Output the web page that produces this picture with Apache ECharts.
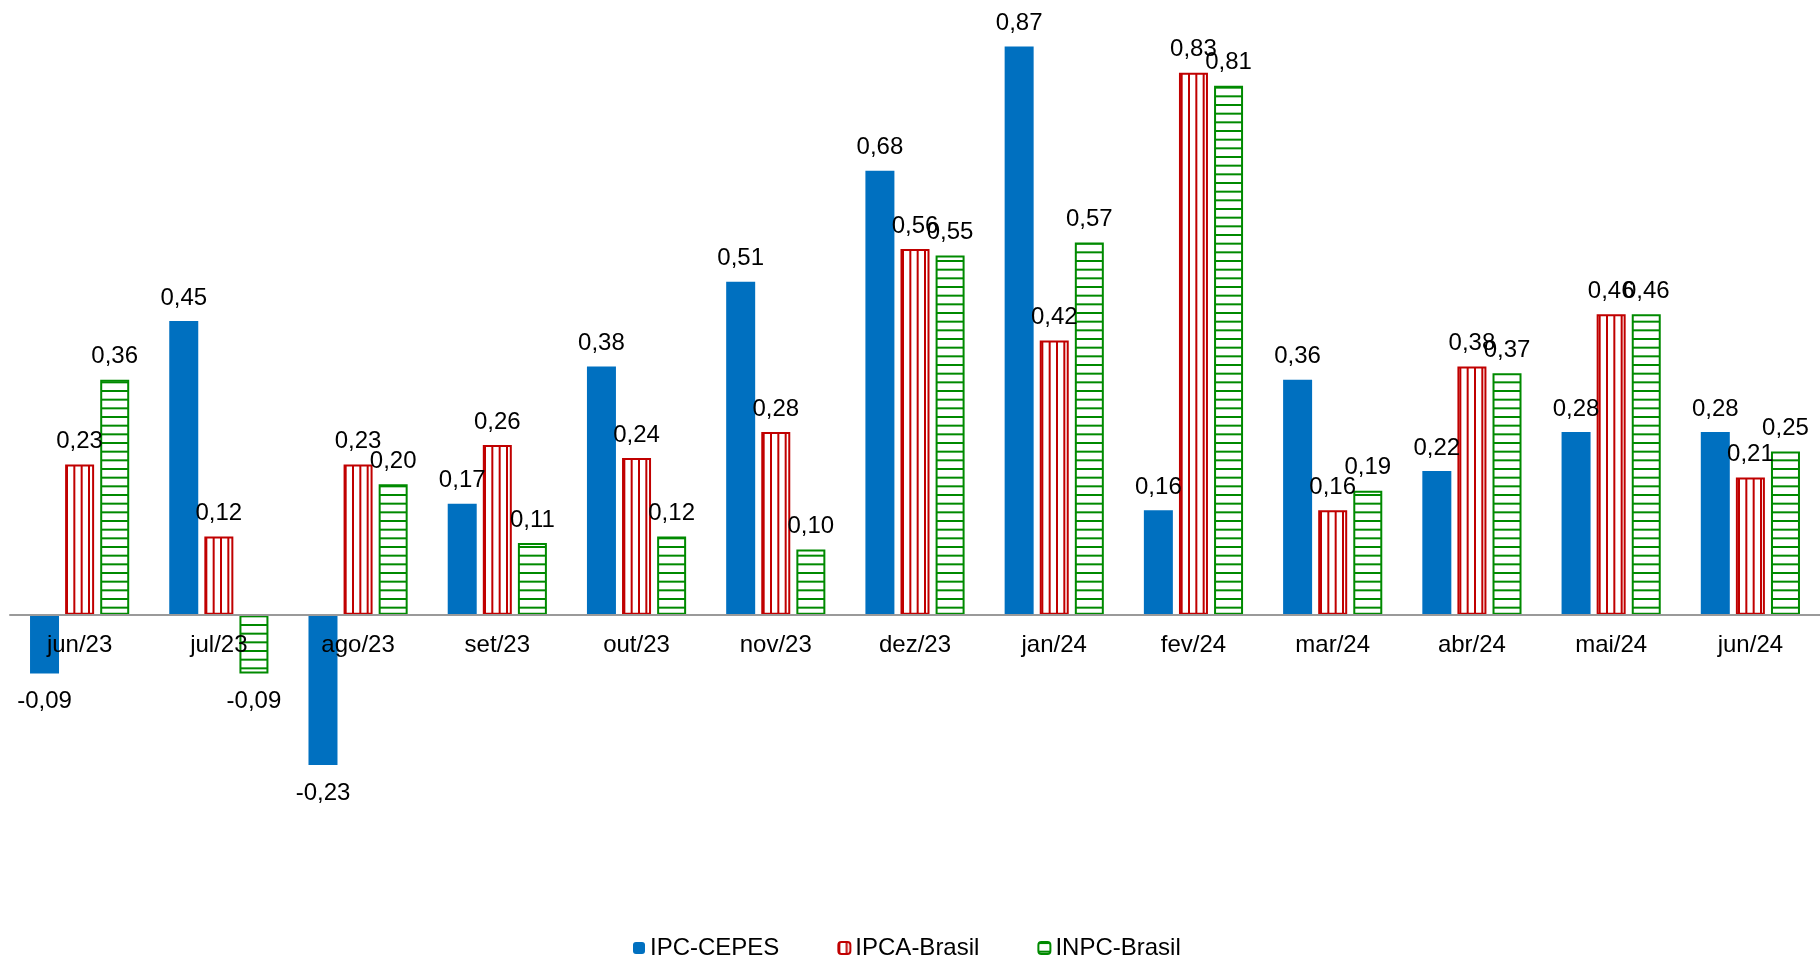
<!DOCTYPE html>
<html>
<head>
<meta charset="utf-8">
<script src="https://cdn.jsdelivr.net/npm/echarts@6/dist/echarts.min.js"></script>
<style>
html,body{margin:0;padding:0;background:#fff;}
#chart{width:1820px;height:957px;}
</style>
</head>
<body>
<div id="chart"></div>
<script>
const categories = ['jun/23','jul/23','ago/23','set/23','out/23','nov/23','dez/23','jan/24','fev/24','mar/24','abr/24','mai/24','jun/24'];
const ipcCepes   = [-0.09, 0.45, -0.23, 0.17, 0.38, 0.51, 0.68, 0.87, 0.16, 0.36, 0.22, 0.28, 0.28];
const ipcaBrasil = [0.23, 0.12, 0.23, 0.26, 0.24, 0.28, 0.56, 0.42, 0.83, 0.16, 0.38, 0.46, 0.21];
const inpcBrasil = [0.36, -0.09, 0.20, 0.11, 0.12, 0.10, 0.55, 0.57, 0.81, 0.19, 0.37, 0.46, 0.25];
const seriesNames = ['IPC-CEPES', 'IPCA-Brasil', 'INPC-Brasil'];

const BLUE = '#0070C0', RED = '#C00000', GREEN = '#008A00';
const FONT = "'Liberation Sans', Arial, sans-serif";

const H = 957, GRID_TOP = 27, GRID_BOTTOM = 81, Y_MIN = -0.4, Y_MAX = 0.9;
const plotH = H - GRID_TOP - GRID_BOTTOM;
const zeroOffset = -Math.round((0 - Y_MIN) / (Y_MAX - Y_MIN) * plotH);

function makePattern(vertical, color, size, count, lw) {
  const c = document.createElement('canvas');
  c.width = size; c.height = size;
  const ctx = c.getContext('2d');
  ctx.fillStyle = '#fff';
  ctx.fillRect(0, 0, size, size);
  ctx.fillStyle = color;
  const step = size / count;
  for (let i = 0; i < count; i++) {
    const p = i * step;
    if (vertical) ctx.fillRect(p, 0, lw, size);
    else ctx.fillRect(0, p, size, lw);
  }
  return c;
}
const redPattern = makePattern(true, RED, 22, 3, 2);
const greenPattern = makePattern(false, GREEN, 26, 3, 2);

function fmt(v) { return v.toFixed(2).replace('.', ','); }
function toData(arr) {
  return arr.map(v => ({
    value: v,
    label: v < 0 ? { position: 'bottom', distance: 16 } : { position: 'top', distance: 11 }
  }));
}

const labelCommon = {
  show: true,
  formatter: p => fmt(p.value),
  fontSize: 24,
  color: '#000',
  fontFamily: FONT
};

const chart = echarts.init(document.getElementById('chart'), null, { renderer: 'canvas' });
chart.setOption({
  animation: false,
  backgroundColor: '#fff',
  textStyle: { fontFamily: FONT },
  grid: { left: 10, right: 0, top: GRID_TOP, bottom: GRID_BOTTOM, containLabel: false },
  legend: {
    data: seriesNames,
    left: 633,
    top: 936,
    padding: 0,
    itemWidth: 12,
    itemHeight: 12,
    itemGap: 58,
    textStyle: { fontSize: 24, color: '#000', fontFamily: FONT, lineHeight: 24 }
  },
  xAxis: {
    type: 'category',
    data: categories,
    position: 'bottom',
    offset: zeroOffset,
    axisLine: { show: true, onZero: false, lineStyle: { color: '#9a9a9a', width: 2 } },
    axisTick: { show: false },
    axisLabel: { interval: 0, fontSize: 24, color: '#000', margin: 18, fontFamily: FONT },
    z: 10
  },
  yAxis: {
    type: 'value',
    min: Y_MIN,
    max: Y_MAX,
    show: false,
    splitLine: { show: false }
  },
  series: [
    {
      name: seriesNames[0], type: 'bar', data: toData(ipcCepes),
      barWidth: 29, barGap: '21%',
      itemStyle: { color: BLUE },
      label: labelCommon
    },
    {
      name: seriesNames[1], type: 'bar', data: toData(ipcaBrasil),
      barWidth: 29, barGap: '21%',
      itemStyle: { color: { image: redPattern, repeat: 'repeat' }, borderColor: RED, borderWidth: 2 },
      label: labelCommon
    },
    {
      name: seriesNames[2], type: 'bar', data: toData(inpcBrasil),
      barWidth: 29, barGap: '21%',
      itemStyle: { color: { image: greenPattern, repeat: 'repeat' }, borderColor: GREEN, borderWidth: 2 },
      label: labelCommon
    }
  ]
});
</script>
</body>
</html>
